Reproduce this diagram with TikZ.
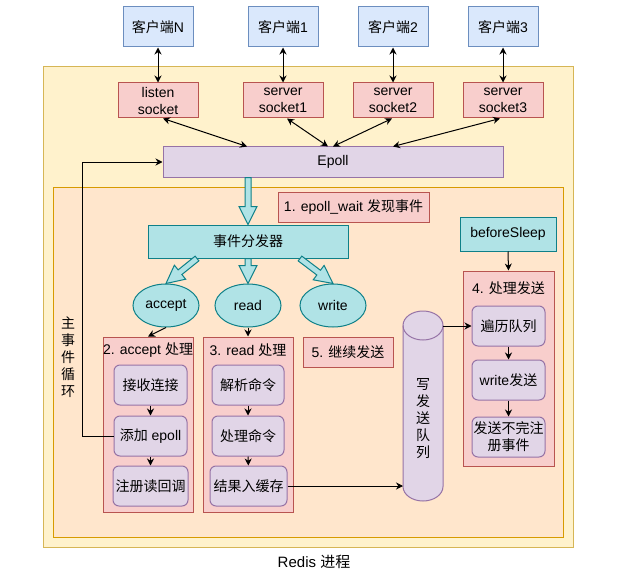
\documentclass[tikz,border=0pt]{standalone}
\usepackage{fontspec}
\setmainfont{Liberation Sans}
\newfontfamily\cjkfont{Noto Sans CJK SC}
\newcommand{\zh}[1]{{\cjkfont #1}}
\usepackage{tikz}
\usetikzlibrary{arrows.meta,positioning,calc,shapes.geometric}
\definecolor{bluefill}{HTML}{DAE8FC}
\definecolor{blueline}{HTML}{6C8EBF}
\definecolor{redfill}{HTML}{F8CECC}
\definecolor{redline}{HTML}{B85450}
\definecolor{purpfill}{HTML}{E1D5E7}
\definecolor{purpline}{HTML}{9673A6}
\definecolor{yelfill}{HTML}{FFF2CC}
\definecolor{yelline}{HTML}{D6B656}
\definecolor{orgfill}{HTML}{FFE6CC}
\definecolor{orgline}{HTML}{D79B00}
\definecolor{tealfill}{HTML}{B0E3E6}
\definecolor{tealline}{HTML}{0E8088}

\begin{document}
\begin{tikzpicture}[x=1pt,y=1pt,line width=1pt,
  every node/.style={font=\fontsize{14}{17}\selectfont,inner sep=0pt},
  zhtxt/.style={font=\fontsize{14}{17}\cjkfont},
  client/.style={draw=blueline,fill=bluefill,minimum width=70pt,minimum height=40pt},
  sock/.style={draw=redline,fill=redfill,align=center,minimum width=80pt,minimum height=35pt},
  redbox/.style={draw=redline,fill=redfill},
  purp/.style={draw=purpline,fill=purpfill},
  stepbox/.style={purp,rounded corners=6pt,minimum width=73pt,minimum height=40pt,align=center},
  tealbox/.style={draw=tealline,fill=tealfill},
  conn/.style={-{Stealth[length=7pt,width=7pt]}},
  dbl/.style={{Stealth[length=7pt,width=7pt]}-{Stealth[length=7pt,width=7pt]}},
  fatarrow/.style={draw=tealline,fill=tealfill,line join=miter,
    to path={
      ($(\tikztostart)!3pt!90:(\tikztotarget)$) --
      ($(\tikztotarget)!18pt!(\tikztostart)!3pt!90:(\tikztotarget)$) --
      ($(\tikztotarget)!18pt!(\tikztostart)!9pt!90:(\tikztotarget)$) --
      (\tikztotarget) --
      ($(\tikztotarget)!18pt!(\tikztostart)!9pt!-90:(\tikztotarget)$) --
      ($(\tikztotarget)!18pt!(\tikztostart)!3pt!-90:(\tikztotarget)$) --
      ($(\tikztostart)!3pt!-90:(\tikztotarget)$) -- cycle}}]
  \useasboundingbox (0,0) rectangle (629,-575);

  % Redis process and main loop area
  \draw[draw=yelline,fill=yelfill] (43,-67) rectangle (573,-547);
  \draw[draw=orgline,fill=orgfill] (53,-187) rectangle (563,-537);
  \node[font=\fontsize{15}{18}\selectfont] (redis) at (314,-562) {Redis \zh{进程}};
  \node[zhtxt,align=center] (mainloop) at (68,-357) {主\\事\\件\\循\\环};

  % clients and sockets
  \foreach \nm/\x/\s in {N/158/{listen\\socket},1/283/{server\\socket1},
                         2/393/{server\\socket2},3/503/{server\\socket3}}{
    \node[client] (c\nm) at (\x,-27) {\zh{客户端}\nm};
    \node[sock] (s\nm) at (\x,-100.5) {\s};
    \draw[dbl] (c\nm) -- (s\nm);
  }

  \node[purp,minimum width=340pt,minimum height=30pt] (epoll) at (333,-162) {Epoll};
  \draw[dbl] ($(sN.south)+(5,0)$) -- ($(epoll.north)+(-86,0)$);
  \draw[dbl] ($(s1.south)+(4,0)$) -- ($(epoll.north)+(-5,0)$);
  \draw[dbl] ($(s2.south)+(-1,0)$) -- (epoll.north);
  \draw[dbl] ($(s3.south)+(-3,0)$) -- ($(epoll.north)+(60,0)$);

  % dispatcher
  \node[redbox,minimum width=151pt,minimum height=30pt] (found) at (353.5,-207)
    {1. epoll\_wait \zh{发现事件}};
  \node[tealbox,minimum width=200pt,minimum height=33pt] (disp) at (248,-241.5) {\zh{事件分发器}};
  \node[tealbox,minimum width=96pt,minimum height=34pt] (bs) at (508,-234) {beforeSleep};
  \draw[fatarrow] (disp.north |- epoll.south) to (disp.north);

  \node[tealbox,ellipse,minimum width=66pt,minimum height=43pt] (acc) at (166,-305.5) {accept};
  \node[tealbox,ellipse,minimum width=66pt,minimum height=43pt] (rd) at (248,-305.5) {read};
  \node[tealbox,ellipse,minimum width=66pt,minimum height=43pt] (wr) at (333,-305.5) {write};
  \coordinate (fa) at ($(disp.south)+(-51,0)$);
  \coordinate (fw) at ($(disp.south)+(52,0)$);
  \draw[fatarrow] (fa) to (acc.north);
  \draw[fatarrow] (disp.south) to (rd.north);
  \draw[fatarrow] (fw) to (wr.north);

  % accept handling
  \node[redbox,minimum width=90pt,minimum height=175pt] (box2) at (148,-424.5) {};
  \node (t2) at (148,-350) {2. accept \zh{处理}};
  \node[stepbox,zhtxt] (recv) at (150.5,-385) {接收连接};
  \node[stepbox] (add) at (150.5,-436) {\zh{添加} epoll};
  \node[stepbox,zhtxt,minimum width=75pt] (reg) at (150.5,-486) {注册读回调};
  \draw[conn] (acc.south) -- (box2.north);
  \draw[conn] (recv) -- (add);
  \draw[conn] (add) -- (reg);
  \draw[conn] (add.west) -- ++(-31,0) |- (epoll.west);

  % read handling
  \node[redbox,minimum width=90pt,minimum height=175pt] (box3) at (248,-424.5) {};
  \node (t3) at (248,-350) {3. read \zh{处理}};
  \node[stepbox,zhtxt,minimum width=72pt] (parse) at (248,-385) {解析命令};
  \node[stepbox,zhtxt,minimum width=72pt] (exec) at (248,-436) {处理命令};
  \node[stepbox,zhtxt,minimum width=77pt] (res) at (248.5,-486) {结果入缓存};
  \draw[conn] (rd.south) -- (box3.north);
  \draw[conn] (parse) -- (exec);
  \draw[conn] (exec) -- (res);

  \node[redbox,minimum width=90pt,minimum height=30pt] (cont) at (348,-352) {5. \zh{继续发送}};

  % write queue
  \filldraw[fill=purpfill,draw=purpline] (403,-325.5) -- (403,-486.5)
    arc[start angle=180,end angle=360,x radius=20,y radius=14.5] -- (443,-325.5)
    arc[start angle=0,end angle=180,x radius=20,y radius=14.5] -- cycle;
  \draw[purpline] (403,-325.5) arc[start angle=180,end angle=360,x radius=20,y radius=14.5];
  \node[zhtxt,align=center] (queue) at (423,-419) {写\\发\\送\\队\\列};
  \coordinate (qin) at (403,-486);
  \coordinate (qout) at (443,-326);
  \draw[conn] (res.east) -- (qin);

  % send handling
  \node[redbox,minimum width=91pt,minimum height=195pt] (box4) at (508.5,-368.5) {};
  \node (t4) at (508.5,-288) {4. \zh{处理发送}};
  \node[stepbox,zhtxt] (trav) at (508.5,-326) {遍历队列};
  \node[stepbox] (wsend) at (508.5,-380) {write\zh{发送}};
  \node[stepbox,zhtxt] (rereg) at (508.5,-437) {发送不完注\\册事件};
  \draw[conn] (bs.south) -- (box4.north);
  \draw[conn] (qout) -- (trav.west);
  \draw[conn] (trav) -- (wsend);
  \draw[conn] (wsend) -- (rereg);
\end{tikzpicture}
\end{document}
